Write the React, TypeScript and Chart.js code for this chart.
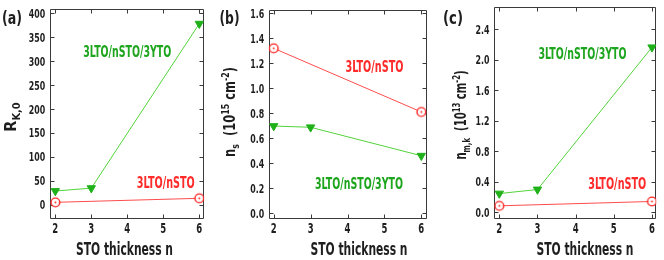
import { useEffect, useRef } from "react";
import { Chart, registerables } from "chart.js";

Chart.register(...registerables);

// ---------------- data ----------------
const N_TRI = [2, 3, 6]; // 3LTO/nSTO/3YTO thicknesses
const N_BI = [2, 6]; // 3LTO/nSTO thicknesses
const X_TICKS = [2, 3, 4, 5, 6];

const RK_TRI = [29, 35, 378];
const RK_BI = [5.4, 13.8];
const NS_TRI = [0.697, 0.687, 0.459];
const NS_BI = [1.32, 0.81];
const NMK_TRI = [0.247, 0.3, 2.166];
const NMK_BI = [0.086, 0.143];

const RK_TICKS = [0, 50, 100, 150, 200, 250, 300, 350, 400];
const NS_TICKS = [0, 0.2, 0.4, 0.6, 0.8, 1.0, 1.2, 1.4, 1.6];
const NMK_TICKS = [0, 0.4, 0.8, 1.2, 1.6, 2.0, 2.4];

const LABEL_TRI = "3LTO/nSTO/3YTO";
const LABEL_BI = "3LTO/nSTO";
const X_TITLE = "STO thickness n";

// ---------------- style ----------------
const FONT = "'DejaVu Sans Condensed', 'DejaVu Sans', sans-serif";
const INK = "#1e1e1e";
const FRAME = "#3a3a3a";
const GREEN_LINE = "#52d43a";
const GREEN_MARK = "#1fb01a";
const GREEN_TEXT = "#1ea51e";
const RED_LINE = "#ff4c4c";
const RED_MARK = "#ff2424";
const RED_TEXT = "#ff2a2a";

const W = 664;
const H = 260;
const YBOX = 40;
const XBOX = 20;

type Seg = { t: string; k: "n" | "sub" | "sup" };
type Panel = {
  letter: string;
  letterX: number;
  plot: { left: number; right: number; top: number; bottom: number };
  xMin: number;
  xMax: number;
  yMin: number;
  yMax: number;
  yTicks: number[];
  dec: number;
  tri: number[];
  bi: number[];
  triLabel: [number, number];
  biLabel: [number, number];
  yTitle: Seg[];
  yTitleX: number;
  yTitleY: number;
  yTitleLen: number;
  xTitleX: number;
};

const PANELS: Panel[] = [
  {
    letter: "(a)",
    letterX: 12,
    plot: { left: 49.7, right: 204.3, top: 9.3, bottom: 219.3 },
    xMin: 1.844,
    xMax: 6.139,
    yMin: -30,
    yMax: 408,
    yTicks: RK_TICKS,
    dec: 0,
    tri: RK_TRI,
    bi: RK_BI,
    triLabel: [4.0, 320],
    biLabel: [5.07, 47],
    yTitle: [
      { t: "R", k: "n" },
      { t: "K,0", k: "sub" },
    ],
    yTitleX: 10,
    yTitleY: 117,
    yTitleLen: 34,
    xTitleX: 124.5,
  },
  {
    letter: "(b)",
    letterX: 229.5,
    plot: { left: 268.7, right: 426.7, top: 10, bottom: 218.5 },
    xMin: 1.864,
    xMax: 6.146,
    yMin: -0.044,
    yMax: 1.627,
    yTicks: NS_TICKS,
    dec: 1,
    tri: NS_TRI,
    bi: NS_BI,
    triLabel: [4.31, 0.238],
    biLabel: [4.73, 1.176],
    yTitle: [
      { t: "n", k: "n" },
      { t: "s", k: "sub" },
      { t: "  (10", k: "n" },
      { t: "15", k: "sup" },
      { t: " cm", k: "n" },
      { t: "-2", k: "sup" },
      { t: ")", k: "n" },
    ],
    yTitleX: 229,
    yTitleY: 112,
    yTitleLen: 90,
    xTitleX: 359,
  },
  {
    letter: "(c)",
    letterX: 453,
    plot: { left: 494, right: 656.3, top: 5, bottom: 219 },
    xMin: 1.861,
    xMax: 6.113,
    yMin: -0.087,
    yMax: 2.695,
    yTicks: NMK_TICKS,
    dec: 1,
    tri: NMK_TRI,
    bi: NMK_BI,
    triLabel: [4.18, 2.09],
    biLabel: [5.09, 0.385],
    yTitle: [
      { t: "n", k: "n" },
      { t: "m,k", k: "sub" },
      { t: "  (10", k: "n" },
      { t: "13", k: "sup" },
      { t: " cm", k: "n" },
      { t: "-2", k: "sup" },
      { t: ")", k: "n" },
    ],
    yTitleX: 460,
    yTitleY: 115,
    yTitleLen: 86,
    xTitleX: 585,
  },
];

function circleDot(): HTMLCanvasElement {
  const c = document.createElement("canvas");
  c.width = 13;
  c.height = 13;
  const g = c.getContext("2d")!;
  g.strokeStyle = RED_MARK;
  g.lineWidth = 1.4;
  g.fillStyle = "rgba(255,255,255,0.9)";
  g.beginPath();
  g.arc(6.5, 6.5, 4.4, 0, Math.PI * 2);
  g.fill();
  g.stroke();
  g.fillStyle = RED_MARK;
  g.beginPath();
  g.arc(6.5, 6.5, 0.9, 0, Math.PI * 2);
  g.fill();
  return c;
}

// draws text; sx > 0 is a fixed horizontal scale, sx < 0 means "fit to width -sx"
function drawText(
  ctx: CanvasRenderingContext2D,
  text: string,
  x: number,
  y: number,
  size: number,
  color: string,
  sx: number,
  align: CanvasTextAlign = "center",
  baseline: CanvasTextBaseline = "alphabetic"
) {
  ctx.save();
  ctx.font = `bold ${size}px ${FONT}`;
  ctx.fillStyle = color;
  ctx.textAlign = align;
  ctx.textBaseline = baseline;
  const s = sx < 0 ? -sx / ctx.measureText(text).width : sx;
  ctx.translate(x, y);
  ctx.scale(s, 1);
  ctx.fillText(text, 0, 0);
  ctx.restore();
}

function drawRichVertical(
  ctx: CanvasRenderingContext2D,
  segs: Seg[],
  cx: number,
  cy: number,
  len: number
) {
  const big = 16;
  const small = 11;
  ctx.save();
  ctx.translate(cx, cy);
  ctx.rotate(-Math.PI / 2);
  ctx.fillStyle = INK;
  ctx.textBaseline = "alphabetic";
  ctx.textAlign = "left";
  let total = 0;
  const widths = segs.map((s) => {
    ctx.font = `bold ${s.k === "n" ? big : small}px ${FONT}`;
    const w = ctx.measureText(s.t).width;
    total += w;
    return w;
  });
  const sx = Math.min(1, Math.max(0.7, len / total));
  let x = (-total * sx) / 2;
  const base = 6;
  segs.forEach((s, i) => {
    ctx.font = `bold ${s.k === "n" ? big : small}px ${FONT}`;
    const dy = s.k === "sub" ? base + 3.5 : s.k === "sup" ? base - 6.5 : base;
    ctx.save();
    ctx.translate(x, dy);
    ctx.scale(sx, 1);
    ctx.fillText(s.t, 0, 0);
    ctx.restore();
    x += widths[i] * sx;
  });
  ctx.restore();
}

function makeChart(canvas: HTMLCanvasElement, p: Panel, marker: HTMLCanvasElement) {
  const fixBox = (isX: boolean) => (s: any) => {
    if (isX) s.height = XBOX;
    else s.width = YBOX;
    s.paddingLeft = 0;
    s.paddingRight = 0;
    s.paddingTop = 0;
    s.paddingBottom = 0;
  };

  const decor = {
    id: "decor" + p.letter,
    beforeDatasetsDraw(chart: any) {
      const { ctx, chartArea: a, scales } = chart;
      const L = Math.round(a.left) + 0.5;
      const R = Math.round(a.right) - 0.5;
      const T = Math.round(a.top) + 0.5;
      const B = Math.round(a.bottom) - 0.5;
      ctx.save();
      ctx.strokeStyle = FRAME;
      ctx.lineWidth = 1;
      ctx.beginPath();
      ctx.rect(L, T, R - L, B - T);
      const tl = 4;
      scales.x.ticks.forEach((t: any) => {
        const px = Math.round(scales.x.getPixelForValue(t.value)) + 0.5;
        ctx.moveTo(px, B);
        ctx.lineTo(px, B - tl);
        ctx.moveTo(px, T);
        ctx.lineTo(px, T + tl);
      });
      scales.y.ticks.forEach((t: any) => {
        const py = Math.round(scales.y.getPixelForValue(t.value)) + 0.5;
        ctx.moveTo(L, py);
        ctx.lineTo(L + tl, py);
        ctx.moveTo(R, py);
        ctx.lineTo(R - tl, py);
      });
      ctx.stroke();
      ctx.restore();

      // tick labels from the library's scales
      scales.x.ticks.forEach((t: any) => {
        const px = scales.x.getPixelForValue(t.value);
        drawText(ctx, String(t.value), px, a.bottom + 14, 13.5, INK, 0.7, "center");
      });
      scales.y.ticks.forEach((t: any) => {
        const py = scales.y.getPixelForValue(t.value);
        drawText(ctx, Number(t.value).toFixed(p.dec), a.left - 4.5, py + 4.5, 12.5, INK, 0.7, "right");
      });
    },
    afterDraw(chart: any) {
      const { ctx, scales } = chart;
      drawText(ctx, p.letter, p.letterX, 24, 18.5, INK, -20);
      drawText(ctx, X_TITLE, p.xTitleX, 255, 17, INK, -97);
      drawRichVertical(ctx, p.yTitle, p.yTitleX, p.yTitleY, p.yTitleLen);
      drawText(
        ctx,
        LABEL_TRI,
        scales.x.getPixelForValue(p.triLabel[0]),
        scales.y.getPixelForValue(p.triLabel[1]) + 5.5,
        15,
        GREEN_TEXT,
        -88
      );
      drawText(
        ctx,
        LABEL_BI,
        scales.x.getPixelForValue(p.biLabel[0]),
        scales.y.getPixelForValue(p.biLabel[1]) + 5.5,
        15,
        RED_TEXT,
        -58
      );
    },
  };

  return new Chart(canvas, {
    type: "line",
    data: {
      datasets: [
        {
          data: N_TRI.map((n, i) => ({ x: n, y: p.tri[i] })),
          borderColor: GREEN_LINE,
          borderWidth: 1,
          pointStyle: "triangle",
          rotation: 180,
          pointRadius: 4.8,
          pointBackgroundColor: GREEN_MARK,
          pointBorderColor: GREEN_MARK,
          pointBorderWidth: 1,
          tension: 0,
        },
        {
          data: N_BI.map((n, i) => ({ x: n, y: p.bi[i] })),
          borderColor: RED_LINE,
          borderWidth: 1,
          pointStyle: marker,
          pointRadius: 6,
          tension: 0,
        },
      ],
    },
    options: {
      responsive: false,
      animation: false,
      events: [],
      layout: {
        padding: {
          left: p.plot.left - YBOX,
          right: W - p.plot.right,
          top: p.plot.top,
          bottom: H - p.plot.bottom - XBOX,
        },
      },
      plugins: {
        legend: { display: false },
        tooltip: { enabled: false },
      },
      scales: {
        x: {
          type: "linear",
          min: p.xMin,
          max: p.xMax,
          afterBuildTicks: (s: any) => {
            s.ticks = X_TICKS.map((v) => ({ value: v }));
          },
          afterFit: fixBox(true),
          grid: { display: false, drawTicks: false },
          border: { display: false },
          ticks: { display: false },
        },
        y: {
          type: "linear",
          min: p.yMin,
          max: p.yMax,
          afterBuildTicks: (s: any) => {
            s.ticks = p.yTicks.map((v) => ({ value: v }));
          },
          afterFit: fixBox(false),
          grid: { display: false, drawTicks: false },
          border: { display: false },
          ticks: { display: false },
        },
      },
    },
    plugins: [decor],
  } as any);
}

export default function App() {
  const r0 = useRef<HTMLCanvasElement>(null);
  const r1 = useRef<HTMLCanvasElement>(null);
  const r2 = useRef<HTMLCanvasElement>(null);

  useEffect(() => {
    const marker = circleDot();
    const refs = [r0, r1, r2];
    const charts = PANELS.map((p, i) => makeChart(refs[i].current!, p, marker));
    return () => charts.forEach((c) => c.destroy());
  }, []);

  const cs: React.CSSProperties = {
    position: "absolute",
    left: 0,
    top: 0,
    width: W,
    height: H,
  };
  return (
    <div style={{ position: "absolute", left: 0, top: 0, width: W, height: H, background: "#fff" }}>
      <canvas ref={r0} width={W} height={H} style={cs} />
      <canvas ref={r1} width={W} height={H} style={cs} />
      <canvas ref={r2} width={W} height={H} style={cs} />
    </div>
  );
}
